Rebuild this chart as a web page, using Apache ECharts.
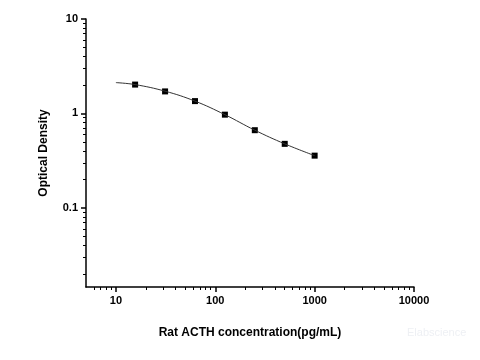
<!DOCTYPE html>
<html>
<head>
<meta charset="utf-8">
<script src="https://cdn.jsdelivr.net/npm/echarts@6/dist/echarts.min.js"></script>
<style>html,body{margin:0;padding:0;background:#fff}#c{width:480px;height:360px}</style>
</head>
<body>
<div id="c"></div>
<script>
var concentrations = [15.6, 31.25, 62.5, 125, 250, 500, 1000];
var odValues = [2.02, 1.71, 1.35, 0.97, 0.664, 0.476, 0.357];
var curveX = [10, 15.6, 31.25, 62.5, 125, 250, 500, 1000];
var curveY = [2.12, 2.02, 1.72, 1.35, 0.97, 0.664, 0.476, 0.357];
var xMajorTicks = [10, 100, 1000, 10000];
var xMinorTicks = [6, 7, 8, 9, 20, 30, 40, 50, 60, 70, 80, 90, 200, 300, 400, 500, 600, 700, 800, 900, 2000, 3000, 4000, 5000, 6000, 7000, 8000, 9000];
var yMajorTicks = [0.1, 1, 10];
var yMinorTicks = [0.02, 0.03, 0.04, 0.05, 0.06, 0.07, 0.08, 0.09, 0.2, 0.3, 0.4, 0.5, 0.6, 0.7, 0.8, 0.9, 2, 3, 4, 5, 6, 7, 8, 9];
var xTitle = 'Rat ACTH concentration(pg/mL)';
var yTitle = 'Optical Density';

var chart = echarts.init(document.getElementById('c'));
var font = 'Liberation Sans, Arial, sans-serif';
var axisBase = function (type) {
  return {
    type: 'log', logBase: 10,
    position: type === 'x' ? 'bottom' : 'left',
    min: type === 'x' ? 5 : 0.0145,
    max: type === 'x' ? 10000 : 10,
    splitLine: {show: false},
    axisLine: {show: true, onZero: false, lineStyle: {color: '#000', width: 1.5}}
  };
};
function major(type, extra) {
  var a = axisBase(type);
  a.axisTick = {show: true, length: 5, lineStyle: {color: '#000', width: 1.5}, customValues: type === 'x' ? xMajorTicks : yMajorTicks};
  a.axisLabel = {show: true, color: '#000', fontFamily: font, fontWeight: 'bold', fontSize: 11,
    customValues: type === 'x' ? xMajorTicks : yMajorTicks,
    formatter: function (v) { return String(+(+v).toPrecision(6)); }};
  return Object.assign(a, extra);
}
function minor(type) {
  var a = axisBase(type);
  a.axisTick = {show: true, length: 3, lineStyle: {color: '#000', width: 1}, customValues: type === 'x' ? xMinorTicks : yMinorTicks};
  a.axisLabel = {show: false};
  a.axisLine = {show: false};
  return a;
}
chart.setOption({
  animation: false,
  backgroundColor: '#fff',
  grid: {left: 86, right: 66, top: 19, bottom: 73},
  xAxis: [
    major('x', {name: xTitle, nameLocation: 'middle', nameGap: 40,
      nameTextStyle: {color: '#000', fontFamily: font, fontWeight: 'bold', fontSize: 12}}),
    minor('x')
  ],
  yAxis: [
    major('y', {name: yTitle, nameLocation: 'middle', nameGap: 36,
      nameTextStyle: {color: '#000', fontFamily: font, fontWeight: 'bold', fontSize: 12}}),
    minor('y')
  ],
  graphic: [{type: 'text', left: 407, top: 327,
    style: {text: 'Elabscience', fill: '#eef0f4', font: '11px ' + font}}],
  series: [
    {type: 'line', smooth: 0.4, symbol: 'none', xAxisIndex: 0, yAxisIndex: 0,
      lineStyle: {color: '#333', width: 1},
      data: curveX.map(function (x, i) { return [x, curveY[i]]; })},
    {type: 'scatter', symbol: 'rect', symbolSize: 6, xAxisIndex: 0, yAxisIndex: 0,
      itemStyle: {color: '#000', opacity: 1},
      data: concentrations.map(function (x, i) { return [x, odValues[i]]; })}
  ]
});
</script>
</body>
</html>
